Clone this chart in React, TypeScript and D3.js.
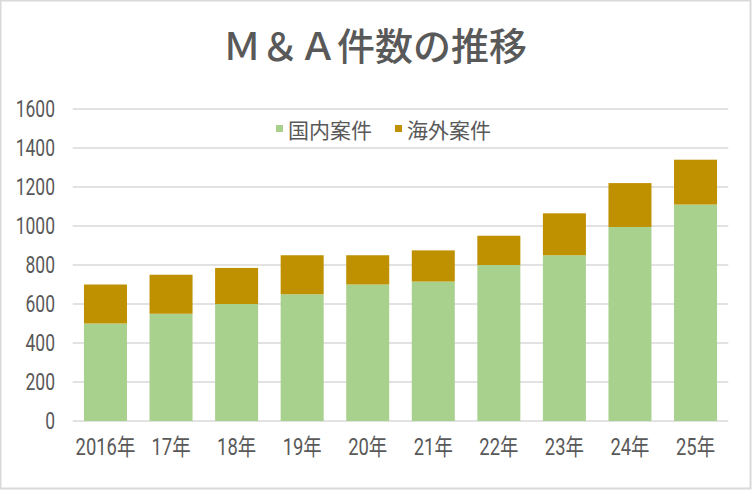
import React from "react";
import * as d3 from "d3";

const years = ["2016年", "17年", "18年", "19年", "20年", "21年", "22年", "23年", "24年", "25年"];
const domestic = [500, 550, 600, 650, 700, 715, 800, 850, 995, 1110];
const overseas = [200, 200, 185, 200, 150, 160, 150, 215, 225, 230];
const yTicks = [0, 200, 400, 600, 800, 1000, 1200, 1400, 1600];
const seriesNames = ["国内案件", "海外案件"];
const seriesColors = ["#a9d18e", "#bf9000"];

const W = 752;
const H = 491;
const FONT = "Roboto, 'Noto Sans CJK JP', sans-serif";
const CJK = "'Noto Sans CJK JP', sans-serif";
// the original uses a tall, narrow UI font; squeeze Roboto to get close
const SQUEEZE = 0.76;

const App: React.FC = () => {
    const x = d3
        .scaleBand<string>()
        .domain(years)
        .range([72.7, 728.3])
        .paddingInner(0.344)
        .paddingOuter(0.172);

    const y = d3.scaleLinear().domain([0, 1600]).range([421, 109]);

    const rows = years.map((yr, i) => ({ year: yr, domestic: domestic[i], overseas: overseas[i] }));
    const stacked = d3.stack<any>().keys(["domestic", "overseas"])(rows);

    return (
        <svg
            width={W}
            height={H}
            style={{ position: "absolute", left: 0, top: 0, background: "#fff" }}
        >
            <rect x={0.5} y={0.5} width={W - 2} height={H - 3} fill="#fff" stroke="#d9d9d9" strokeWidth={2} />

            <text
                x={375}
                y={43}
                textAnchor="middle"
                dominantBaseline="central"
                fontFamily={CJK}
                fontSize={38}
                fontWeight={500}
                fill="#595959"
            >
                Ｍ＆Ａ件数の推移
            </text>

            {yTicks.map((t) => (
                <g key={t}>
                    <line x1={72.7} x2={728.3} y1={y(t)} y2={y(t)} stroke="#d9d9d9" strokeWidth={1.5} />
                    <g transform={`translate(55,${y(t)}) scale(${SQUEEZE},1)`}>
                        <text
                            textAnchor="end"
                            dominantBaseline="central"
                            fontFamily={FONT}
                            fontSize={23}
                            fill="#595959"
                        >
                            {t}
                        </text>
                    </g>
                </g>
            ))}

            {stacked.map((layer, si) =>
                layer.map((d, i) => (
                    <rect
                        key={`${si}-${i}`}
                        x={x(years[i])}
                        y={y(d[1])}
                        width={x.bandwidth()}
                        height={y(d[0]) - y(d[1])}
                        fill={seriesColors[si]}
                    />
                ))
            )}

            {years.map((yr) => (
                <g
                    key={yr}
                    transform={`translate(${(x(yr) ?? 0) + x.bandwidth() / 2},447) scale(0.8,1)`}
                >
                    <text
                        textAnchor="middle"
                        dominantBaseline="central"
                        fontFamily={FONT}
                        fontSize={23}
                        fill="#595959"
                    >
                        {yr}
                    </text>
                </g>
            ))}

            {seriesNames.map((name, i) => {
                const lx = i === 0 ? 276 : 395;
                return (
                    <g key={name}>
                        <rect x={lx} y={125} width={7} height={7} fill={seriesColors[i]} />
                        <text
                            x={lx + 12}
                            y={128.5}
                            dominantBaseline="central"
                            fontFamily={CJK}
                            fontSize={21}
                            fill="#595959"
                        >
                            {name}
                        </text>
                    </g>
                );
            })}
        </svg>
    );
};

export default App;
